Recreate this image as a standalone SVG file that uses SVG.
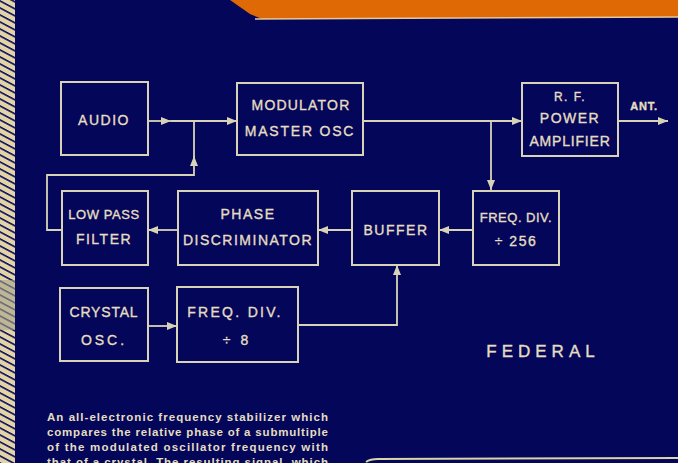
<svg xmlns="http://www.w3.org/2000/svg" width="678" height="463" viewBox="0 0 678 463">
<style>
.box{fill:none;stroke:#d8d3b6;stroke-width:2}
.ln{fill:none;stroke:#d8d3b6;stroke-width:1.8}
.t{font-family:"Liberation Sans",Arial,sans-serif;font-size:14px;fill:#e4dec0;stroke:#e4dec0;stroke-width:0.35;letter-spacing:1.5px;text-anchor:middle}
.cap{font-family:"Liberation Sans",Arial,sans-serif;font-size:11.5px;font-weight:bold;fill:#e4dec0}
</style>
<defs>
<marker id="ah" viewBox="0 0 10 8" refX="10" refY="4" markerWidth="10" markerHeight="8" markerUnits="userSpaceOnUse" orient="auto">
<path d="M0,0 L10,4 L0,8 Z" fill="#d8d3b6"/>
</marker>
<pattern id="hatch" patternUnits="userSpaceOnUse" width="16" height="7" patternTransform="skewY(28)">
<rect width="16" height="7" fill="#e2d4a6"/>
<rect y="0" width="16" height="1.8" fill="#0a0d5a"/>
</pattern>
</defs>
<rect width="678" height="463" fill="#04065a"/>
<rect x="0" y="0" width="15" height="463" fill="url(#hatch)"/>
<rect x="0" y="280" width="15" height="50" fill="#a7a48c" opacity="0.6"/>
<polygon points="230,0 678,0 678,17 262,19 250,14" fill="#df6a05"/>
<path d="M255,19 L678,17" stroke="#e8c79a" stroke-width="1.5" fill="none"/>
<path d="M366,462 Q370,459 378,459 L678,458" stroke="#d9d6a8" stroke-width="2" fill="none"/>

<g id="connectors">
<path class="ln" d="M148,121 H171" marker-end="url(#ah)"/>
<path class="ln" d="M171,121 H237" marker-end="url(#ah)"/>
<path class="ln" d="M62,230 H47 V175 H194 V156" marker-end="url(#ah)"/>
<path class="ln" d="M194,157 V121"/>
<path class="ln" d="M363,121 H522" marker-end="url(#ah)"/>
<path class="ln" d="M491,121 V190" marker-end="url(#ah)"/>
<path class="ln" d="M618,121 H668" marker-end="url(#ah)"/>
<path class="ln" d="M473,230 H439" marker-end="url(#ah)"/>
<path class="ln" d="M352,230 H318" marker-end="url(#ah)"/>
<path class="ln" d="M178,230 H148" marker-end="url(#ah)"/>
<path class="ln" d="M148,326 H177" marker-end="url(#ah)"/>
<path class="ln" d="M298,325 H397 V265" marker-end="url(#ah)"/>
</g>

<g id="audio">
<rect class="box" x="61" y="82" width="87" height="73"/>
<text class="t" x="104" y="125">AUDIO</text>
</g>
<g id="modulator">
<rect class="box" x="237" y="83" width="126" height="72"/>
<text class="t" x="301" y="110" style="letter-spacing:1.2px">MODULATOR</text>
<text class="t" x="300" y="136" style="letter-spacing:1.8px">MASTER OSC</text>
</g>
<g id="rf">
<rect class="box" x="522" y="83" width="96" height="73"/>
<text class="t" x="570" y="101" style="font-size:12px">R. F.</text>
<text class="t" x="570" y="123">POWER</text>
<text class="t" x="570" y="146" style="letter-spacing:0.8px">AMPLIFIER</text>
</g>
<text class="t" x="644" y="110" style="font-size:11px;font-weight:bold;letter-spacing:0.8px">ANT.</text>
<g id="freqdiv256">
<rect class="box" x="473" y="191" width="86" height="74"/>
<text class="t" x="516" y="222" style="font-size:13px;letter-spacing:0.5px">FREQ. DIV.</text>
<text class="t" x="516" y="246">÷ 256</text>
</g>
<g id="buffer">
<rect class="box" x="352" y="191" width="87" height="74"/>
<text class="t" x="396" y="235">BUFFER</text>
</g>
<g id="phase">
<rect class="box" x="178" y="191" width="140" height="74"/>
<text class="t" x="248" y="219">PHASE</text>
<text class="t" x="248" y="245">DISCRIMINATOR</text>
</g>
<g id="lowpass">
<rect class="box" x="62" y="191" width="86" height="74"/>
<text class="t" x="104" y="219" style="font-size:13px;letter-spacing:0.6px">LOW PASS</text>
<text class="t" x="104" y="244">FILTER</text>
</g>
<g id="crystal">
<rect class="box" x="60" y="288" width="88" height="73"/>
<text class="t" x="104" y="317" style="letter-spacing:0.8px">CRYSTAL</text>
<text class="t" x="104" y="345" style="letter-spacing:3px">OSC.</text>
</g>
<g id="freqdiv8">
<rect class="box" x="177" y="287" width="121" height="75"/>
<text class="t" x="235" y="317" style="letter-spacing:2.3px">FREQ. DIV.</text>
<text class="t" x="237" y="345" style="letter-spacing:3px">÷ 8</text>
</g>
<text class="t" x="543" y="357" style="font-size:17px;letter-spacing:5px">FEDERAL</text>

<text class="cap" x="47" y="421" textLength="281" lengthAdjust="spacing">An all-electronic frequency stabilizer which</text>
<text class="cap" x="47" y="435.5" textLength="281" lengthAdjust="spacing">compares the relative phase of a submultiple</text>
<text class="cap" x="47" y="450.5" textLength="281" lengthAdjust="spacing">of the modulated oscillator frequency with</text>
<text class="cap" x="47" y="465.5" textLength="281" lengthAdjust="spacing">that of a crystal. The resulting signal, which</text>
</svg>
